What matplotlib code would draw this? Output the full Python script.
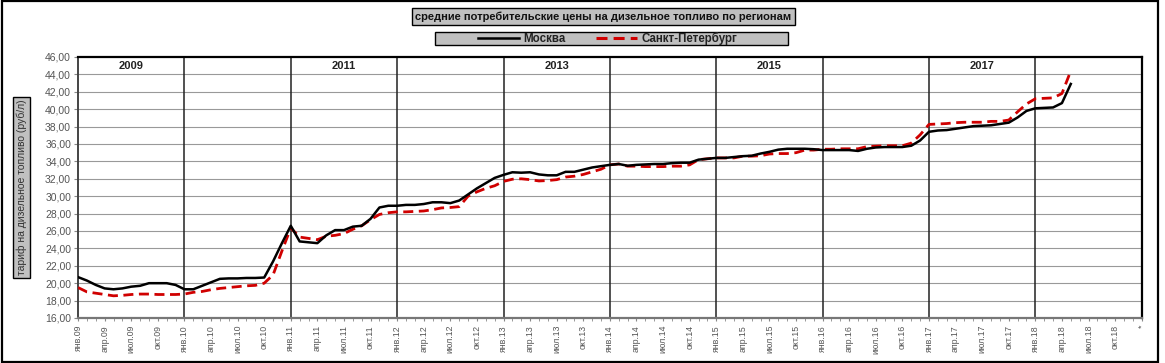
import matplotlib
matplotlib.use('Agg')
import matplotlib.pyplot as plt
from matplotlib.patches import Rectangle
from matplotlib.lines import Line2D

plt.rcParams['font.family'] = ['Liberation Sans', 'DejaVu Sans']

TITLE = 'средние потребительские цены на дизельное топливо по регионам'
YLABEL = 'тариф на дизельное топливо (руб/л)'
SERIES_NAMES = ['Москва', 'Санкт-Петербург']

# monthly prices from янв.09, rub/l
moscow = [
    20.7, 20.3, 19.8, 19.4, 19.3, 19.4, 19.6, 19.7, 20.0, 20.0, 20.0, 19.8,
    19.3, 19.3, 19.7, 20.1, 20.5, 20.55, 20.55, 20.6, 20.6, 20.65, 22.5, 24.6,
    26.6, 24.8, 24.7, 24.6, 25.5, 26.1, 26.1, 26.5, 26.6, 27.4, 28.7, 28.9,
    28.9, 29.0, 29.0, 29.1, 29.3, 29.3, 29.2, 29.5, 30.2, 30.9, 31.5, 32.1,
    32.45, 32.75, 32.7, 32.75, 32.5, 32.4, 32.4, 32.8, 32.8, 33.05, 33.3, 33.45,
    33.6, 33.7, 33.5, 33.6, 33.65, 33.7, 33.7, 33.8, 33.85, 33.85, 34.2, 34.3,
    34.4, 34.4, 34.5, 34.6, 34.65, 34.9, 35.1, 35.35, 35.45, 35.45, 35.45, 35.4,
    35.3, 35.3, 35.3, 35.3, 35.2, 35.45, 35.6, 35.65, 35.65, 35.65, 35.8, 36.4,
    37.4, 37.55, 37.6, 37.75, 37.9, 38.05, 38.1, 38.15, 38.3, 38.45, 39.05, 39.8,
    40.1, 40.15, 40.2, 40.7, 42.9,
]
spb = [
    19.5, 19.0, 18.85, 18.7, 18.55, 18.6, 18.7, 18.75, 18.75, 18.7, 18.7, 18.7,
    18.75, 18.95, 19.05, 19.25, 19.4, 19.5, 19.6, 19.7, 19.75, 20.0, 20.95, 23.7,
    26.35, 25.3, 25.15, 25.0, 25.4, 25.5, 25.7, 26.2, 26.6, 27.3, 27.9, 28.1,
    28.2, 28.2, 28.25, 28.3, 28.45, 28.65, 28.7, 28.8, 30.0, 30.5, 30.9, 31.2,
    31.7, 31.95, 32.0, 31.9, 31.75, 31.8, 31.9, 32.2, 32.3, 32.5, 32.8, 33.1,
    33.6, 33.7, 33.45, 33.45, 33.4, 33.4, 33.4, 33.45, 33.45, 33.6, 34.2, 34.3,
    34.4, 34.4, 34.4, 34.6, 34.6, 34.65, 34.85, 34.9, 34.9, 35.0, 35.3, 35.3,
    35.4, 35.4, 35.45, 35.45, 35.45, 35.7, 35.75, 35.8, 35.8, 35.8, 36.1, 37.05,
    38.25, 38.3, 38.35, 38.45, 38.5, 38.5, 38.5, 38.6, 38.6, 38.75, 39.7, 40.6,
    41.2, 41.25, 41.3, 41.8, 44.4,
]

MONTHS = ['янв', 'фев', 'мар', 'апр', 'май', 'июн',
          'июл', 'авг', 'сен', 'окт', 'ноя', 'дек']
YEARS = ['09', '10', '11', '12', '13', '14', '15', '16', '17', '18']
YEAR_TITLES = ['2009', '2011', '2013', '2015', '2017']

categories = [f'{m}.{y}' for y in YEARS for m in MONTHS] + ['*']
n_cat = len(categories)

fig = plt.figure(figsize=(11.65, 3.63), dpi=100)
ax = fig.add_axes([0.067, 0.124, 0.913, 0.719])

RED_DASH = (3.6, 2.0)
ax.plot(range(len(moscow)), moscow, color='black', lw=1.8,
        label=SERIES_NAMES[0], zorder=4)
ax.plot(range(len(spb)), spb, color='#d00000', lw=2.0, dashes=RED_DASH,
        label=SERIES_NAMES[1], zorder=3)

ax.set_xlim(0, n_cat - 1)
ax.set_ylim(16, 46)
yt = list(range(16, 47, 2))
ax.set_yticks(yt)
ax.set_yticklabels([f'{v:.2f}'.replace('.', ',') for v in yt],
                   fontsize=7.5, color='#555555')
ax.set_xticks(range(0, n_cat, 3))
ax.set_xticklabels(categories[::3], rotation=90, fontsize=6.3,
                   color='#555555', va='top')
ax.set_xticks(range(n_cat), minor=True)
ax.tick_params(axis='x', which='both', length=2, color='#888888', pad=3)
ax.tick_params(axis='y', length=3, color='#888888', pad=2)

for v in yt[1:-1]:
    ax.axhline(v, color='#999999', lw=0.8, zorder=1)
for i in range(12, n_cat - 1, 12):
    ax.axvline(i, color='#222222', lw=1.1, zorder=2)
for k, t in enumerate(YEAR_TITLES):
    ax.text(24 * k + 6, 45, t, ha='center', va='center', fontsize=8,
            fontweight='bold', color='#222222')

for side in ['top', 'right']:
    ax.spines[side].set_linewidth(1.6)
    ax.spines[side].set_color('black')
ax.spines['left'].set_color('#444444')
ax.spines['left'].set_linewidth(1.4)
ax.spines['bottom'].set_color('#777777')
ax.spines['bottom'].set_linewidth(1.6)

ax.set_ylabel(YLABEL, fontsize=7.5, color='#333333', labelpad=13,
              bbox=dict(boxstyle='square,pad=0.3', fc='#c0c0c0', ec='black', lw=1))

fig.text(0.518, 0.955, TITLE, ha='center', va='center', fontsize=8,
         fontweight='bold', color='#111111',
         bbox=dict(boxstyle='square,pad=0.3', fc='#c0c0c0', ec='black', lw=1))

# legend box drawn separately so its width matches the original
W, H = 1165.0, 363.0
fig.add_artist(Rectangle((435 / W, 1 - 45 / H), 353 / W, 13 / H,
                         transform=fig.transFigure, fc='#c0c0c0', ec='black',
                         lw=1, zorder=1))
handles = [Line2D([], [], color='black', lw=1.8),
           Line2D([], [], color='#d00000', lw=2.2, dashes=RED_DASH)]
leg = fig.legend(handles, SERIES_NAMES, loc='center left',
                 bbox_to_anchor=(472 / W, 1 - 38.5 / H),
                 ncol=2, fontsize=8.3, frameon=False,
                 handlelength=3.6, columnspacing=2.6, borderpad=0.0,
                 handletextpad=0.35)
leg.set_zorder(2)
for t in leg.get_texts():
    t.set_fontweight('bold')
    t.set_color('#222222')

fig.add_artist(Rectangle((0.002, 0.004), 0.992, 0.992, transform=fig.transFigure,
                         fill=False, ec='black', lw=1.6))

fig.savefig('out.png', dpi=100)
